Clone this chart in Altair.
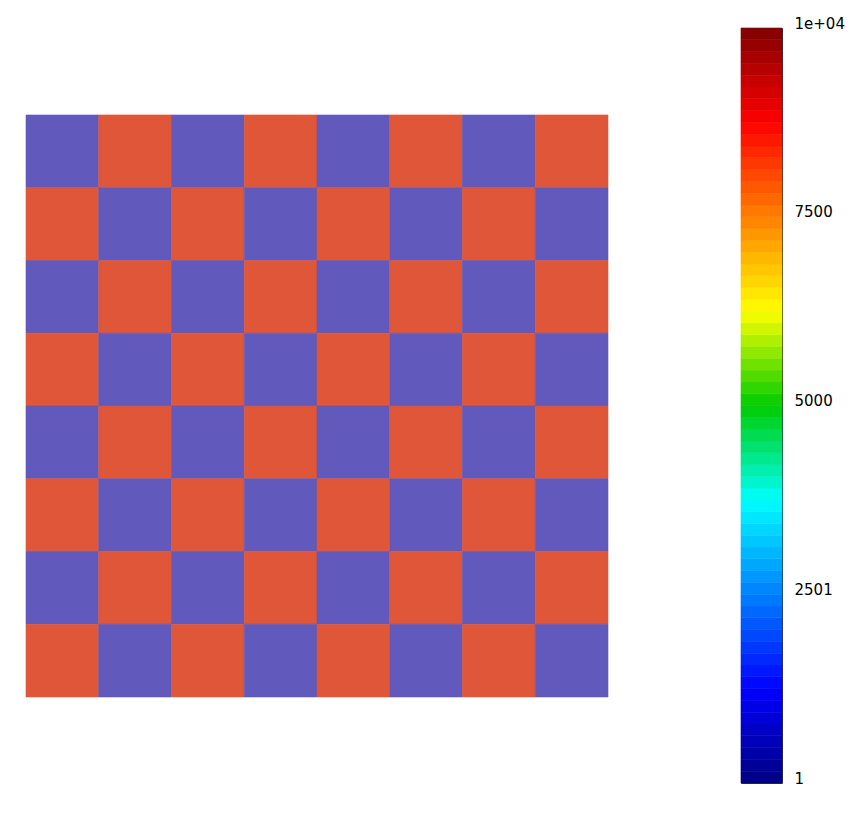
import altair as alt
import pandas as pd

# 8x8 checkerboard values (0 = purple cell, 1 = orange cell), top row first
grid = [
    [0, 1, 0, 1, 0, 1, 0, 1],
    [1, 0, 1, 0, 1, 0, 1, 0],
    [0, 1, 0, 1, 0, 1, 0, 1],
    [1, 0, 1, 0, 1, 0, 1, 0],
    [0, 1, 0, 1, 0, 1, 0, 1],
    [1, 0, 1, 0, 1, 0, 1, 0],
    [0, 1, 0, 1, 0, 1, 0, 1],
    [1, 0, 1, 0, 1, 0, 1, 0],
]
cell_kinds = [0, 1]
cell_colors = ["#6159BB", "#E05638"]

# colour bar
cbar_min = 1
cbar_max = 10000
cbar_steps = 64
cbar_ticks = [1, 2501, 5000, 7500, 10000]
anchor_fracs = [0.0, 0.125, 0.375, 0.5, 0.625, 0.875, 1.0]
anchor_colors = ["#000080", "#0000FF", "#00FFFF", "#00CC00", "#FFFF00", "#FF0000", "#800000"]

rows = []
for r, line in enumerate(grid):
    for c, v in enumerate(line):
        rows.append({"c0": c, "c1": c + 1, "r0": r, "r1": r + 1, "kind": v})
cells = pd.DataFrame(rows)

span = cbar_max - cbar_min
step = span / cbar_steps
bar = pd.DataFrame({
    "lo": [cbar_min + i * step for i in range(cbar_steps)],
    "hi": [cbar_min + (i + 1) * step for i in range(cbar_steps)],
    "mid": [cbar_min + (i + 0.5) * step for i in range(cbar_steps)],
})
anchor_vals = [cbar_min + f * span for f in anchor_fracs]

cell_px = 72.75
panel_h = 755
top_rows = (115 - 28) / cell_px
y_dom = [-top_rows, -top_rows + panel_h / cell_px]

cell_color = alt.Color("kind:N", scale=alt.Scale(domain=cell_kinds, range=cell_colors), legend=None)
heat = alt.Chart(cells).mark_rect(strokeWidth=0.6).encode(
    x=alt.X("c0:Q", scale=alt.Scale(domain=[0, 8], nice=False, zero=False), axis=None),
    x2="c1:Q",
    y=alt.Y("r0:Q", scale=alt.Scale(domain=y_dom, nice=False, zero=False, reverse=True), axis=None),
    y2="r1:Q",
    color=cell_color,
    stroke=alt.Stroke("kind:N", scale=alt.Scale(domain=cell_kinds, range=cell_colors), legend=None),
).properties(width=582, height=panel_h, view=alt.ViewBackground(stroke=None))

bar_scale = alt.Scale(domain=anchor_vals, range=anchor_colors, interpolate="rgb")
cbar = alt.Chart(bar).mark_rect(strokeWidth=0.6).encode(
    x=alt.value(0),
    x2=alt.value(41),
    y=alt.Y(
        "lo:Q",
        scale=alt.Scale(domain=[cbar_min, cbar_max], nice=False, zero=False),
        axis=alt.Axis(
            orient="right",
            values=cbar_ticks,
            labelExpr="datum.value >= 10000 ? '1e+04' : format(datum.value, 'd')",
            ticks=False,
            domain=False,
            grid=False,
            title=None,
            labelPadding=12,
            labelFontSize=15,
            labelFont="DejaVu Sans",
            labelColor="#000000",
            labelBaseline="alphabetic",
            labelFlush=False,
            labelOverlap=False,
        ),
    ),
    y2="hi:Q",
    color=alt.Color("mid:Q", scale=bar_scale, legend=None),
    stroke=alt.Stroke("mid:Q", scale=bar_scale, legend=None),
).properties(width=41, height=panel_h, view=alt.ViewBackground(stroke="#333333", strokeWidth=1))

chart = alt.hconcat(heat, cbar, spacing=131).properties(
    padding={"left": 17, "top": 7, "right": 5, "bottom": 5}
).configure_view(stroke=None)

chart.save("out.html", embed_options={"renderer": "svg", "actions": False})
